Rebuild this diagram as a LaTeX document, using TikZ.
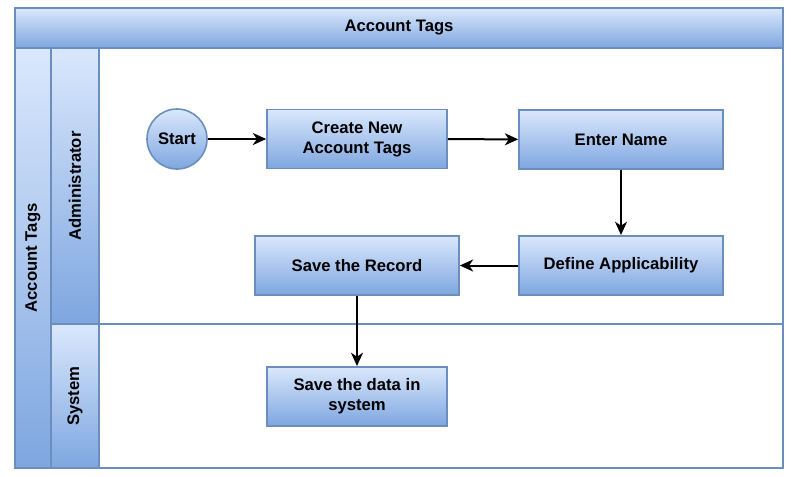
\documentclass[tikz,border=0pt]{standalone}
\usepackage{fontspec}
\setmainfont{Liberation Sans}
\usetikzlibrary{arrows.meta, positioning}
\definecolor{laneTop}{HTML}{DAE8FC}
\definecolor{laneBottom}{HTML}{7EA6E0}
\definecolor{laneEdge}{HTML}{6C8EBF}
\tikzset{
    lanefill/.style={top color=laneTop, bottom color=laneBottom, draw=laneEdge, line width=1.2pt},
    lanetext/.style={font=\fontsize{12.5}{15}\selectfont\bfseries, inner sep=0pt},
    stepbox/.style={lanefill, lanetext, rectangle, minimum height=44.5pt, align=center},
    startnode/.style={lanefill, lanetext, circle, minimum size=45pt},
    flow/.style={-{Stealth[length=10pt,width=9pt,inset=3pt]}, line width=1.5pt}
}

\begin{document}
\begin{tikzpicture}[x=0.75pt, y=-0.75pt]
    \useasboundingbox (0,0) rectangle (791,476);

    % Pool and lanes
    \draw[laneEdge, line width=1.2pt, fill=white] (15,8) rectangle (783,468);
    \node[lanefill, lanetext, minimum width=576pt, minimum height=30pt] (pool) at (399,28) {Account Tags};
    \shade[lanefill] (15,48) rectangle (51,468);
    \node[lanetext, rotate=90] (poolside) at (33,258) {Account Tags};
    \shade[lanefill] (51,48) rectangle (99,324);
    \node[lanetext, rotate=90] (admin) at (75,186) {Administrator};
    \shade[lanefill] (51,324) rectangle (99,468);
    \node[lanetext, rotate=90] (system) at (75,396) {System};
    \draw[laneEdge, line width=1.2pt] (99,324) -- (783,324);

    % Steps
    \node[startnode] (start) at (177,139) {Start};
    \node[stepbox, minimum width=135pt] (create) at (357,139) {Create New\\Account Tags};
    \node[stepbox, minimum width=153pt] (name) at (621,139.5) {Enter Name};
    \node[stepbox, minimum width=153pt] (define) at (621,265.5) {Define Applicability};
    \node[stepbox, minimum width=153pt] (record) at (357,265.5) {Save the Record};
    \node[stepbox, minimum width=135pt] (savedata) at (357,396.5) {Save the data in\\system};

    % Flow
    \draw[flow] (start) -- (create);
    \draw[flow] (create) -- (name);
    \draw[flow] (name) -- (define);
    \draw[flow] (define) -- (record);
    \draw[flow] (record) -- (savedata);
\end{tikzpicture}
\end{document}
